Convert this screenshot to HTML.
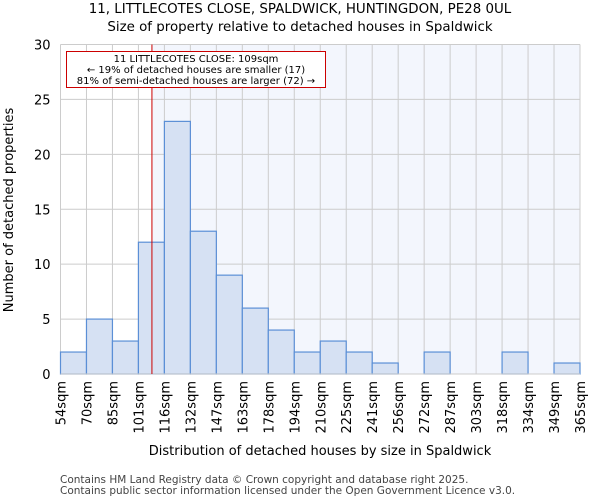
<!DOCTYPE html>
<html><head><meta charset="utf-8"><style>
body{margin:0;background:#fff;font-family:"DejaVu Sans","Liberation Sans",sans-serif;}
svg text{font-family:"DejaVu Sans","Liberation Sans",sans-serif;}
</style></head><body>
<svg id="chart" width="600" height="500" xmlns="http://www.w3.org/2000/svg">
<text x="300" y="13" text-anchor="middle" font-size="13.4">11, LITTLECOTES CLOSE, SPALDWICK, HUNTINGDON, PE28 0UL</text>
<text x="300" y="31" text-anchor="middle" font-size="13.4">Size of property relative to detached houses in Spaldwick</text>
<g id="plot"></g>
<text x="320" y="455" text-anchor="middle" font-size="13">Distribution of detached houses by size in Spaldwick</text>
<text transform="translate(13,210) rotate(-90)" text-anchor="middle" font-size="13">Number of detached properties</text>
<text x="60" y="483" font-size="10.5" fill="#444">Contains HM Land Registry data © Crown copyright and database right 2025.</text>
<text x="60" y="494" font-size="10.5" fill="#444">Contains public sector information licensed under the Open Government Licence v3.0.</text>
</svg>
<script>
const binLabels=["54sqm","70sqm","85sqm","101sqm","116sqm","132sqm","147sqm","163sqm","178sqm","194sqm","210sqm","225sqm","241sqm","256sqm","272sqm","287sqm","303sqm","318sqm","334sqm","349sqm","365sqm"];
const counts=[2,5,3,12,23,13,9,6,4,2,3,2,1,0,2,0,0,2,0,1];
const yTicks=[0,5,10,15,20,25,30];
const subjectIndex=3.52;
const annotationLines=["11 LITTLECOTES CLOSE: 109sqm","← 19% of detached houses are smaller (17)","81% of semi-detached houses are larger (72) →"];
const NS="http://www.w3.org/2000/svg";
const x0=60.5,x1=580,yTop=44.5,yBot=374;
const n=counts.length;
const xs=i=>x0+(x1-x0)*i/n;
const ys=v=>yBot-(yBot-yTop)*v/30;
const g=document.getElementById('plot');
function mk(t,a){const e=document.createElementNS(NS,t);for(const k in a)e.setAttribute(k,a[k]);g.appendChild(e);return e;}
const sx=xs(subjectIndex);
let e=mk('rect',{x:sx,y:yTop,width:x1-sx,height:yBot-yTop,fill:'#f3f6fd'});


for(let i=0;i<=n;i++){e=mk('line',{x1:xs(i),x2:xs(i),y1:yTop,y2:yBot,stroke:'#ccc','stroke-width':1});

}
yTicks.forEach(t=>{e=mk('line',{x1:x0,x2:x1,y1:ys(t),y2:ys(t),stroke:'#ccc','stroke-width':1});


e=mk('text',{x:x0-10,y:ys(t)+5,'text-anchor':'end','font-size':13});e.textContent=t;

});
counts.forEach((c,i)=>{if(c<=0)return;e=mk('rect',{x:xs(i),y:ys(c),width:xs(i+1)-xs(i),height:yBot-ys(c),fill:'#d6e1f3',stroke:'#5b8fd6','stroke-width':1.2});

});
binLabels.forEach((l,i)=>{e=mk('text',{transform:`translate(${xs(i)+5},381) rotate(-90)`,'text-anchor':'end','font-size':13});e.textContent=l;

});
e=mk('line',{x1:x0,x2:x1,y1:yBot,y2:yBot,stroke:'#ccc','stroke-width':1});


e=mk('line',{x1:sx,x2:sx,y1:yTop,y2:yBot,stroke:'#cc0000','stroke-width':1});


e=mk('rect',{x:66.5,y:51.5,width:259,height:36,fill:'#fff',stroke:'#cc0000','stroke-width':1});


annotationLines.forEach((l,i)=>{e=mk('text',{x:196,y:62+i*11,'text-anchor':'middle','font-size':10});e.textContent=l;

});
</script>
</body></html>
